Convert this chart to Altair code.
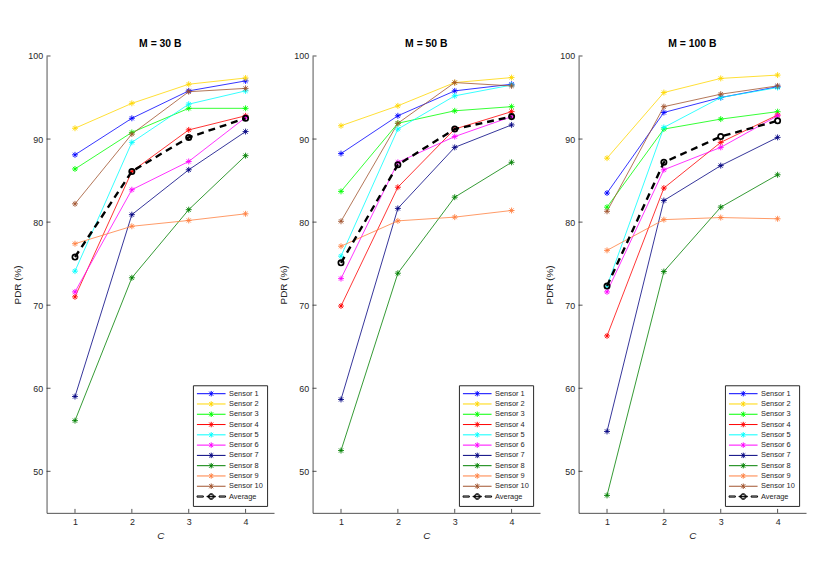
import altair as alt
import pandas as pd

# ---------------- data ----------------
C_VALUES = [1, 2, 3, 4]
SERIES = ["Sensor 1", "Sensor 2", "Sensor 3", "Sensor 4", "Sensor 5",
          "Sensor 6", "Sensor 7", "Sensor 8", "Sensor 9", "Sensor 10", "Average"]
PANEL_TITLES = ["M = 30 B", "M = 50 B", "M = 100 B"]

# M = 30 B
m30_s1 = [88.1, 92.5, 95.8, 97.0]
m30_s2 = [91.3, 94.3, 96.6, 97.35]
m30_s3 = [86.4, 90.8, 93.7, 93.7]
m30_s4 = [71.0, 86.1, 91.1, 92.8]
m30_s5 = [74.1, 89.6, 94.2, 95.8]
m30_s6 = [71.6, 83.9, 87.3, 92.6]
m30_s7 = [59.0, 80.9, 86.3, 90.9]
m30_s8 = [56.1, 73.3, 81.5, 88.0]
m30_s9 = [77.4, 79.5, 80.2, 81.0]
m30_s10 = [82.2, 90.6, 95.7, 96.1]
m30_avg = [75.8, 86.1, 90.2, 92.5]

# M = 50 B
m50_s1 = [88.25, 92.8, 95.8, 96.6]
m50_s2 = [91.6, 94.0, 96.8, 97.4]
m50_s3 = [83.7, 91.9, 93.4, 93.9]
m50_s4 = [69.9, 84.2, 91.2, 93.3]
m50_s5 = [75.9, 91.2, 95.2, 96.5]
m50_s6 = [73.2, 87.2, 90.3, 92.7]
m50_s7 = [58.65, 81.65, 89.0, 91.7]
m50_s8 = [52.5, 73.85, 83.0, 87.2]
m50_s9 = [77.1, 80.15, 80.6, 81.4]
m50_s10 = [80.1, 91.9, 96.8, 96.4]
m50_avg = [75.1, 86.9, 91.2, 92.7]

# M = 100 B
m100_s1 = [83.5, 93.2, 95.0, 96.3]
m100_s2 = [87.7, 95.6, 97.3, 97.7]
m100_s3 = [81.8, 91.2, 92.4, 93.3]
m100_s4 = [66.3, 84.1, 89.6, 92.9]
m100_s5 = [72.3, 91.4, 95.0, 96.2]
m100_s6 = [71.6, 86.3, 89.0, 92.8]
m100_s7 = [54.8, 82.6, 86.8, 90.2]
m100_s8 = [47.1, 74.05, 81.8, 85.7]
m100_s9 = [76.6, 80.3, 80.55, 80.4]
m100_s10 = [81.3, 93.9, 95.4, 96.4]
m100_avg = [72.3, 87.2, 90.3, 92.2]

Y_TICKS = [50, 60, 70, 80, 90, 100]
X_TICKS = [1, 2, 3, 4]

# ---------------- styles ----------------
COLORS = ["#0000ff", "#ffd700", "#00ff00", "#ff0000", "#00ffff", "#ff00ff",
          "#000080", "#008000", "#ff8040", "#a0522d", "#000000"]
FONT = "Liberation Sans"
AXC = "#262626"
W, H = 230, 462

STAR = "M-1,0H1M0,-1V1M-0.7,-0.7L0.7,0.7M-0.7,0.7L0.7,-0.7"
LEG_STAR = "M-1,0H1M0,-0.19V0.19M-0.14,-0.14L0.14,0.14M-0.14,0.14L0.14,-0.14"
LEG_AVG = ("M-1,-0.04H-0.55V0.04H-1Z M0.55,-0.04H1V0.04H0.55Z M-0.3,-0.02H0.3V0.02H-0.3Z "
           "M-0.2,0A0.2,0.2 0 1 1 0.2,0A0.2,0.2 0 1 1 -0.2,0 "
           "M-0.15,0A0.15,0.15 0 1 1 0.15,0A0.15,0.15 0 1 1 -0.15,0")
LEG_SHAPES = [LEG_STAR] * 10 + [LEG_AVG]

panels_data = [
    [m30_s1, m30_s2, m30_s3, m30_s4, m30_s5, m30_s6, m30_s7, m30_s8, m30_s9, m30_s10, m30_avg],
    [m50_s1, m50_s2, m50_s3, m50_s4, m50_s5, m50_s6, m50_s7, m50_s8, m50_s9, m50_s10, m50_avg],
    [m100_s1, m100_s2, m100_s3, m100_s4, m100_s5, m100_s6, m100_s7, m100_s8, m100_s9, m100_s10, m100_avg],
]


def make_df(series_values):
    rows = []
    for name, vals in zip(SERIES, series_values):
        for c, v in zip(C_VALUES, vals):
            rows.append({"series": name, "C": c, "PDR": v})
    return pd.DataFrame(rows)


def make_legend():
    return alt.Legend(
        title=None, orient="bottom-right", offset=7,
        symbolSize=841, symbolStrokeWidth=1,
        symbolFillColor="transparent", symbolOpacity=1,
        clipHeight=10, rowPadding=0.4, labelOffset=3,
        labelFont=FONT, labelFontSize=7.5, labelColor=AXC,
        padding=3.5, strokeColor=AXC, fillColor="white",
    )


def panel(df, title):
    x = alt.X("C:Q", scale=alt.Scale(domain=[0.5, 4.5], nice=False, zero=False),
              axis=alt.Axis(values=X_TICKS, title="C", format="d",
                            labelPadding=5, titlePadding=4,
                            titleFontStyle="italic"))
    y = alt.Y("PDR:Q", scale=alt.Scale(domain=[45, 100], nice=False, zero=False),
              axis=alt.Axis(values=Y_TICKS, title="PDR (%)",
                            labelPadding=4, titlePadding=5))
    color = alt.Color("series:N", scale=alt.Scale(domain=SERIES, range=COLORS),
                      legend=make_legend())
    shape = alt.Shape("series:N", scale=alt.Scale(domain=SERIES, range=LEG_SHAPES),
                      legend=make_legend())

    base = alt.Chart(df)
    sensors = base.transform_filter(alt.datum.series != "Average")
    avg = base.transform_filter(alt.datum.series == "Average")

    # invisible layer that only feeds the legend symbols
    legend_feed = base.mark_point(filled=False, opacity=0).encode(
        x=x, y=y, color=color, shape=shape)
    sensor_lines = sensors.mark_line(strokeWidth=1, opacity=0.8).encode(x=x, y=y, color=color)
    sensor_pts = sensors.mark_point(shape=STAR, filled=False, size=36, strokeWidth=0.9,
                                    opacity=1).encode(x=x, y=y, color=color)
    avg_line = avg.mark_line(strokeWidth=2.4, strokeDash=[7, 5]).encode(x=x, y=y, color=color)
    avg_pts = avg.mark_point(shape="circle", filled=False, size=28, strokeWidth=1.8,
                             opacity=1).encode(x=x, y=y, color=color)

    ytick = alt.Chart(pd.DataFrame({"PDR": Y_TICKS})).mark_rule(
        color=AXC, strokeWidth=0.8).encode(y=y, x=alt.value(0), x2=alt.value(4))
    xtick = alt.Chart(pd.DataFrame({"C": X_TICKS})).mark_rule(
        color=AXC, strokeWidth=0.8).encode(x=x, y=alt.value(H), y2=alt.value(H - 4))

    return alt.layer(legend_feed, ytick, xtick, sensor_lines, sensor_pts, avg_line, avg_pts).properties(
        width=W, height=H,
        title=alt.TitleParams(text=title, font=FONT, fontSize=10.5, fontWeight="bold",
                              anchor="middle", frame="group", offset=3, color="black"),
    )


charts = [panel(make_df(d), t) for d, t in zip(panels_data, PANEL_TITLES)]

chart = alt.hconcat(*charts, spacing=3).resolve_legend(
    color="independent", shape="independent"
).properties(
    padding={"left": 4, "top": 27.5, "right": 2, "bottom": 2},
    background="white",
).configure_axis(
    labelFont=FONT, labelFontSize=9, labelColor=AXC,
    titleFont=FONT, titleFontSize=10, titleFontWeight="normal", titleColor=AXC,
    domainColor=AXC, domainWidth=0.8, ticks=False, tickSize=0, grid=False,
    labelFlush=False, labelOverlap=False,
).configure_view(stroke="transparent")

chart.save("out.html", embed_options={"renderer": "svg", "actions": False})
